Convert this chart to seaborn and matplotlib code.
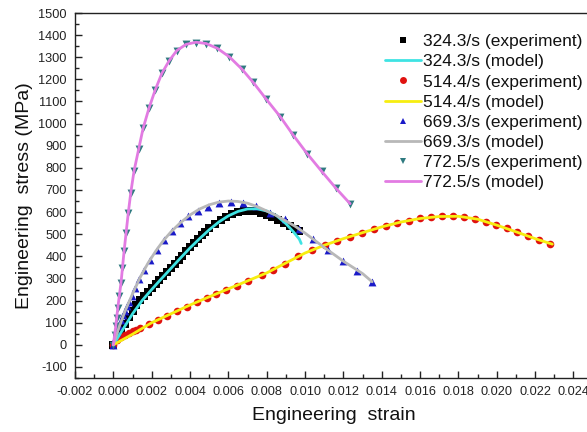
import matplotlib
matplotlib.use("Agg")
import matplotlib.pyplot as plt
from matplotlib.lines import Line2D
from matplotlib.ticker import FixedLocator, MultipleLocator, FormatStrFormatter
import seaborn as sns
import pandas as pd

# 324.3/s
strain_324_exp = [0.0, 0.0002, 0.0004, 0.0006, 0.0008, 0.0010, 0.0012, 0.0014, 0.0016, 0.0018,
                  0.0020, 0.0022, 0.0024, 0.0026, 0.0028, 0.0030, 0.0032, 0.0034, 0.0036, 0.0038,
                  0.0040, 0.0042, 0.0044, 0.0046, 0.0048, 0.0050, 0.0053, 0.0056, 0.0059, 0.0062,
                  0.0065, 0.0068, 0.0071, 0.0074, 0.0077, 0.0080, 0.0083, 0.0086, 0.0089, 0.0092,
                  0.0095, 0.0097]
stress_324_exp = [0, 30, 62, 95, 125, 155, 180, 202, 222, 240,
                  258, 275, 292, 310, 328, 346, 365, 384, 403, 422,
                  443, 462, 480, 498, 512, 527, 545, 562, 578, 590,
                  600, 605, 606, 603, 597, 588, 577, 563, 550, 536,
                  522, 514]
strain_324_model = [0.0, 0.0005, 0.0010, 0.0015, 0.0020, 0.0025, 0.0030, 0.0035, 0.0040, 0.0045,
                    0.0050, 0.0055, 0.0060, 0.0065, 0.0070, 0.0075, 0.0080, 0.0085, 0.0090, 0.0094,
                    0.0097, 0.0098]
stress_324_model = [0, 70, 140, 200, 250, 298, 345, 392, 438, 480,
                    520, 555, 583, 603, 614, 615, 605, 585, 548, 510,
                    478, 458]

# 514.4/s
strain_514_exp = [0.0, 0.0002, 0.0004, 0.0006, 0.0008, 0.0010, 0.0012, 0.00139, 0.00188, 0.00235,
                  0.00282, 0.00334, 0.00386, 0.00435, 0.00487, 0.00536, 0.00588, 0.00644, 0.00704, 0.00774,
                  0.00835, 0.00896, 0.00965, 0.01035, 0.01104, 0.01169, 0.01235, 0.01296, 0.0136, 0.01421,
                  0.01481, 0.01543, 0.0160, 0.01657, 0.01716, 0.01774, 0.01831, 0.01887, 0.01943, 0.01996,
                  0.02052, 0.02107, 0.02165, 0.02222, 0.0228]
stress_514_exp = [0, 22, 36, 46, 55, 62, 69, 76, 95, 112,
                  131, 151, 172, 192, 212, 230, 249, 268, 290, 315,
                  338, 366, 400, 428, 452, 470, 489, 506, 523, 538,
                  550, 561, 572, 579, 582, 582, 579, 569, 556, 542,
                  527, 509, 491, 473, 458]
strain_514_model = [0.0, 0.001, 0.002, 0.003, 0.004, 0.005, 0.006, 0.007, 0.008, 0.009,
                    0.010, 0.011, 0.012, 0.013, 0.014, 0.015, 0.016, 0.017, 0.018, 0.019,
                    0.020, 0.021, 0.022, 0.0229]
stress_514_model = [0, 48, 100, 140, 180, 217, 253, 289, 325, 370,
                    415, 450, 480, 507, 533, 555, 571, 580, 581, 568,
                    541, 511, 480, 455]

# 669.3/s
strain_669_exp = [0.0, 0.0001, 0.0002, 0.0003, 0.0004, 0.0005, 0.0006, 0.0007, 0.0008, 0.00096,
                  0.00113, 0.00136, 0.00162, 0.00191, 0.00226, 0.00264, 0.00305, 0.00348, 0.00391, 0.0044,
                  0.00492, 0.0055, 0.00612, 0.00678, 0.00745, 0.00817, 0.00896, 0.0097, 0.01043, 0.01118,
                  0.01197, 0.0127, 0.01351]
stress_669_exp = [0, 30, 58, 85, 110, 133, 155, 175, 193, 219,
                  257, 298, 340, 382, 427, 473, 514, 552, 582, 606,
                  625, 640, 646, 640, 627, 598, 568, 524, 477, 429,
                  381, 335, 282]
strain_669_model = [0.0, 0.0003, 0.0006, 0.0010, 0.0014, 0.0018, 0.0022, 0.0026, 0.0030, 0.0035,
                    0.0040, 0.0045, 0.0050, 0.0055, 0.0060, 0.0065, 0.0070, 0.0075, 0.0080, 0.0085,
                    0.0090, 0.0095, 0.0100, 0.0110, 0.0120, 0.0130, 0.0135]
stress_669_model = [0, 80, 150, 230, 305, 368, 422, 470, 510, 552,
                    587, 614, 633, 645, 650, 648, 640, 625, 605, 585,
                    560, 535, 505, 440, 378, 322, 285]

# 772.5/s
strain_772_exp = [0.0, 0.000073, 0.000125, 0.000177, 0.00023, 0.000313, 0.0004, 0.00047, 0.000558, 0.000662,
                  0.000782, 0.000908, 0.00108, 0.001315, 0.00155, 0.001862, 0.002175, 0.002525, 0.002906, 0.003307,
                  0.003792, 0.004314, 0.004836, 0.005425, 0.006051, 0.006698, 0.007303, 0.007966, 0.008696, 0.00939,
                  0.01012, 0.010871, 0.011617, 0.012347]
stress_772_exp = [0, 45, 83, 121, 166, 219, 280, 348, 423, 506,
                  597, 688, 786, 884, 978, 1070, 1151, 1227, 1284, 1330,
                  1358, 1366, 1362, 1340, 1302, 1247, 1186, 1111, 1032, 947,
                  863, 784, 707, 638]
strain_772_model = [0.0, 0.00012, 0.00023, 0.0004, 0.00056, 0.00078, 0.00091, 0.00108, 0.00132, 0.00155,
                    0.00186, 0.00218, 0.00253, 0.00291, 0.00331, 0.00379, 0.00431, 0.00484, 0.00543, 0.00605,
                    0.0067, 0.0073, 0.00797, 0.0087, 0.00939, 0.01012, 0.01087, 0.01162, 0.01235]
stress_772_model = [0, 80, 166, 280, 423, 597, 688, 786, 884, 978,
                    1070, 1151, 1227, 1284, 1330, 1358, 1368, 1362, 1340, 1302,
                    1247, 1186, 1111, 1032, 947, 863, 784, 707, 638]

labels_exp = ["324.3/s (experiment)", "514.4/s (experiment)",
              "669.3/s (experiment)", "772.5/s (experiment)"]
labels_model = ["324.3/s (model)", "514.4/s (model)",
                "669.3/s (model)", "772.5/s (model)"]
x_ticks = [-0.002, 0.000, 0.002, 0.004, 0.006, 0.008, 0.010, 0.012,
           0.014, 0.016, 0.018, 0.020, 0.022, 0.024]

sns.set_theme(style="ticks")
plt.rcParams["font.family"] = ["Liberation Sans", "DejaVu Sans"]
plt.rcParams["axes.unicode_minus"] = False

fig = plt.figure(figsize=(5.87, 4.32), dpi=100)
ax = fig.add_axes([75 / 587, 54 / 432, (592.6 - 75) / 587, (378 - 13) / 432])

series = [
    (strain_324_exp, stress_324_exp, strain_324_model, stress_324_model,
     "s", "#000000", "#3fe3e3", 26, 0),
    (strain_514_exp, stress_514_exp, strain_514_model, stress_514_model,
     "o", "#e0120f", "#f7ee10", 30, 1),
    (strain_669_exp, stress_669_exp, strain_669_model, stress_669_model,
     "^", "#1a1ac8", "#b8b8b8", 32, 2),
    (strain_772_exp, stress_772_exp, strain_772_model, stress_772_model,
     "v", "#2f7a80", "#e27be2", 32, 3),
]

handles = []
for sx, sy, mx, my, mk, mcol, lcol, msize, i in series:
    exp_df = pd.DataFrame({"strain": sx, "stress": sy})
    mod_df = pd.DataFrame({"strain": mx, "stress": my})
    sns.scatterplot(data=exp_df, x="strain", y="stress", marker=mk, color=mcol,
                    s=msize, linewidth=0, ax=ax, zorder=3, legend=False)
    sns.lineplot(data=mod_df, x="strain", y="stress", sort=False, estimator=None,
                 color=lcol, lw=2.0, ax=ax, zorder=4, legend=False)
    handles.append(Line2D([], [], ls="none", marker=mk, color=mcol, markersize=5,
                          markeredgewidth=0, label=labels_exp[i]))
    handles.append(Line2D([], [], color=lcol, lw=2.0, label=labels_model[i]))

ax.set_xlim(-0.002, 0.025)
ax.set_ylim(-150, 1500)
ax.xaxis.set_major_locator(FixedLocator(x_ticks))
ax.xaxis.set_minor_locator(MultipleLocator(0.001))
ax.xaxis.set_major_formatter(FormatStrFormatter("%.3f"))
ax.yaxis.set_major_locator(MultipleLocator(100))
ax.yaxis.set_minor_locator(MultipleLocator(50))
ax.tick_params(which="both", direction="in", colors="#222222", labelsize=9.2,
               top=False, right=False, width=1.0)
ax.tick_params(which="major", length=5, pad=6)
ax.tick_params(which="minor", length=3)
for side in ["left", "bottom", "top", "right"]:
    ax.spines[side].set_color("#222222")
    ax.spines[side].set_linewidth(1.0)

ax.set_xlabel("Engineering  strain", fontsize=14, color="#111111", labelpad=6)
ax.set_ylabel("Engineering  stress (MPa)", fontsize=14, color="#111111", labelpad=4)

fig.legend(handles=handles, loc="upper left",
           bbox_to_anchor=(385 / 587, 1 - 34 / 432), frameon=False,
           fontsize=12.5, labelspacing=0.29, handlelength=2.1, handletextpad=0.1,
           borderpad=0, borderaxespad=0, labelcolor="#111111")

fig.savefig("out.png", dpi=100)
